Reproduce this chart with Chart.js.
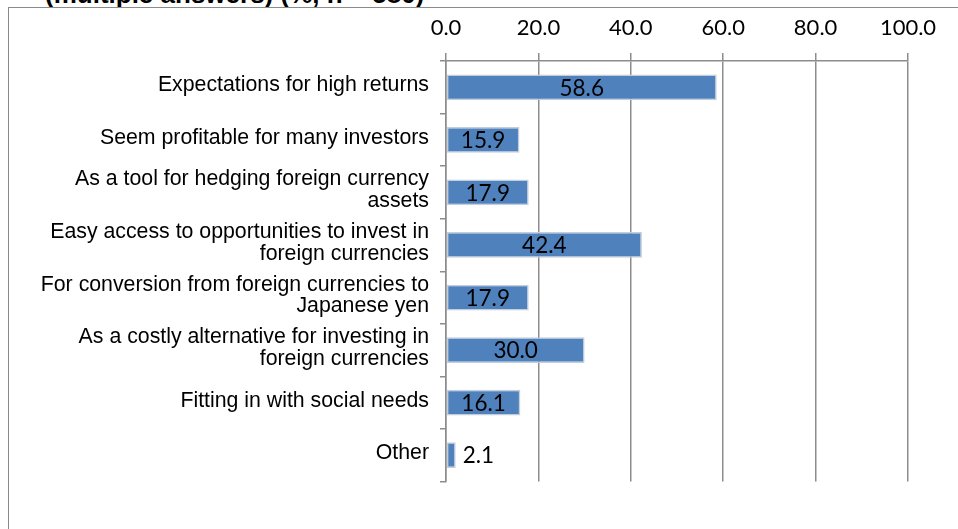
<!DOCTYPE html>
<html>
<head>
<meta charset="utf-8">
<script src="https://cdn.jsdelivr.net/npm/chart.js@4"></script>
<style>
  body { margin: 0; background: #fff; width: 958px; height: 529px; overflow: hidden; position: relative; }
  #frame { position: absolute; left: 8px; top: 7px; width: 980px; height: 560px; border-left: 1.5px solid #8a8a8a; border-top: 1.5px solid #8a8a8a; }
  #title { position: absolute; left: 45px; top: -19px; font: bold 26px "Liberation Sans", Arial, sans-serif; color: #000; white-space: nowrap; line-height: 26px; }
  #wrap { position: absolute; left: 9px; top: 8px; }
</style>
</head>
<body>
<div id="title">(multiple answers) (%, n = 580)</div>
<div id="frame"></div>
<div id="wrap"><canvas id="chart" width="949" height="521"></canvas></div>
<script>
// Kategorien (Gründe)
var categories = [
    'Expectations for high returns',
    'Seem profitable for many investors',
    ['As a tool for hedging foreign currency', 'assets'],
    ['Easy access to opportunities to invest in', 'foreign currencies'],
    ['For conversion from foreign currencies to', 'Japanese yen'],
    ['As a costly alternative for investing in', 'foreign currencies'],
    'Fitting in with social needs',
    'Other'
];
var values = [58.6, 15.9, 17.9, 42.4, 17.9, 30.0, 16.1, 2.1];
var xTicks = [0, 20, 40, 60, 80, 100];

var gridColor = '#8c8c8c';
var valueFont = '22.5px Lato, "Open Sans", sans-serif';

// Datenbeschriftungen: mittig im Balken, bei kurzen Balken rechts daneben
var valueLabels = {
    id: 'valueLabels',
    afterDatasetsDraw: function(chart) {
        var ctx = chart.ctx;
        var meta = chart.getDatasetMeta(0);
        ctx.save();
        ctx.font = valueFont;
        ctx.fillStyle = '#000';
        ctx.textBaseline = 'middle';
        meta.data.forEach(function(bar, i) {
            var text = values[i].toFixed(1);
            var w = ctx.measureText(text).width;
            var len = bar.x - bar.base;
            if (len > w + 8) {
                ctx.textAlign = 'center';
                ctx.fillText(text, (bar.x + bar.base) / 2, bar.y + 1);
            } else {
                ctx.textAlign = 'left';
                ctx.fillText(text, bar.x + 7, bar.y + 1);
            }
        });
        ctx.restore();
    }
};

new Chart(document.getElementById('chart'), {
    type: 'bar',
    data: {
        labels: categories,
        datasets: [{
            data: values,
            backgroundColor: '#4f81bd',
            borderColor: '#c3cddc',
            borderWidth: 1.5,
            borderSkipped: false,
            categoryPercentage: 1.0,
            barPercentage: 0.49
        }]
    },
    options: {
        indexAxis: 'y',
        responsive: false,
        animation: false,
        devicePixelRatio: 1,
        layout: { padding: { left: 0, top: 0, right: 50, bottom: 47.5 } },
        plugins: {
            legend: { display: false },
            tooltip: { enabled: false }
        },
        scales: {
            x: {
                position: 'top',
                min: 0,
                max: 100,
                afterBuildTicks: function(scale) {
                    scale.ticks = xTicks.map(function(v) { return { value: v }; });
                },
                afterFit: function(scale) { scale.height = 53; },
                grid: { color: gridColor, lineWidth: 1.5, tickLength: 8, tickColor: gridColor },
                border: { display: true, color: gridColor, width: 1.5 },
                ticks: {
                    padding: 12,
                    color: '#000',
                    font: { family: 'Lato, "Open Sans", sans-serif', size: 22 },
                    callback: function(v) { return Number(v).toFixed(1); }
                }
            },
            y: {
                afterFit: function(scale) { scale.width = 437; },
                grid: { drawOnChartArea: false, drawTicks: true, tickLength: 6, color: gridColor, lineWidth: 1.5 },
                border: { display: true, color: gridColor, width: 1.5 },
                ticks: {
                    padding: 11,
                    labelOffset: -2,
                    color: '#000',
                    font: { family: '"Liberation Sans", Arial, sans-serif', size: 21.3, lineHeight: 1.02 }
                }
            }
        }
    },
    plugins: [valueLabels]
});
</script>
</body>
</html>
